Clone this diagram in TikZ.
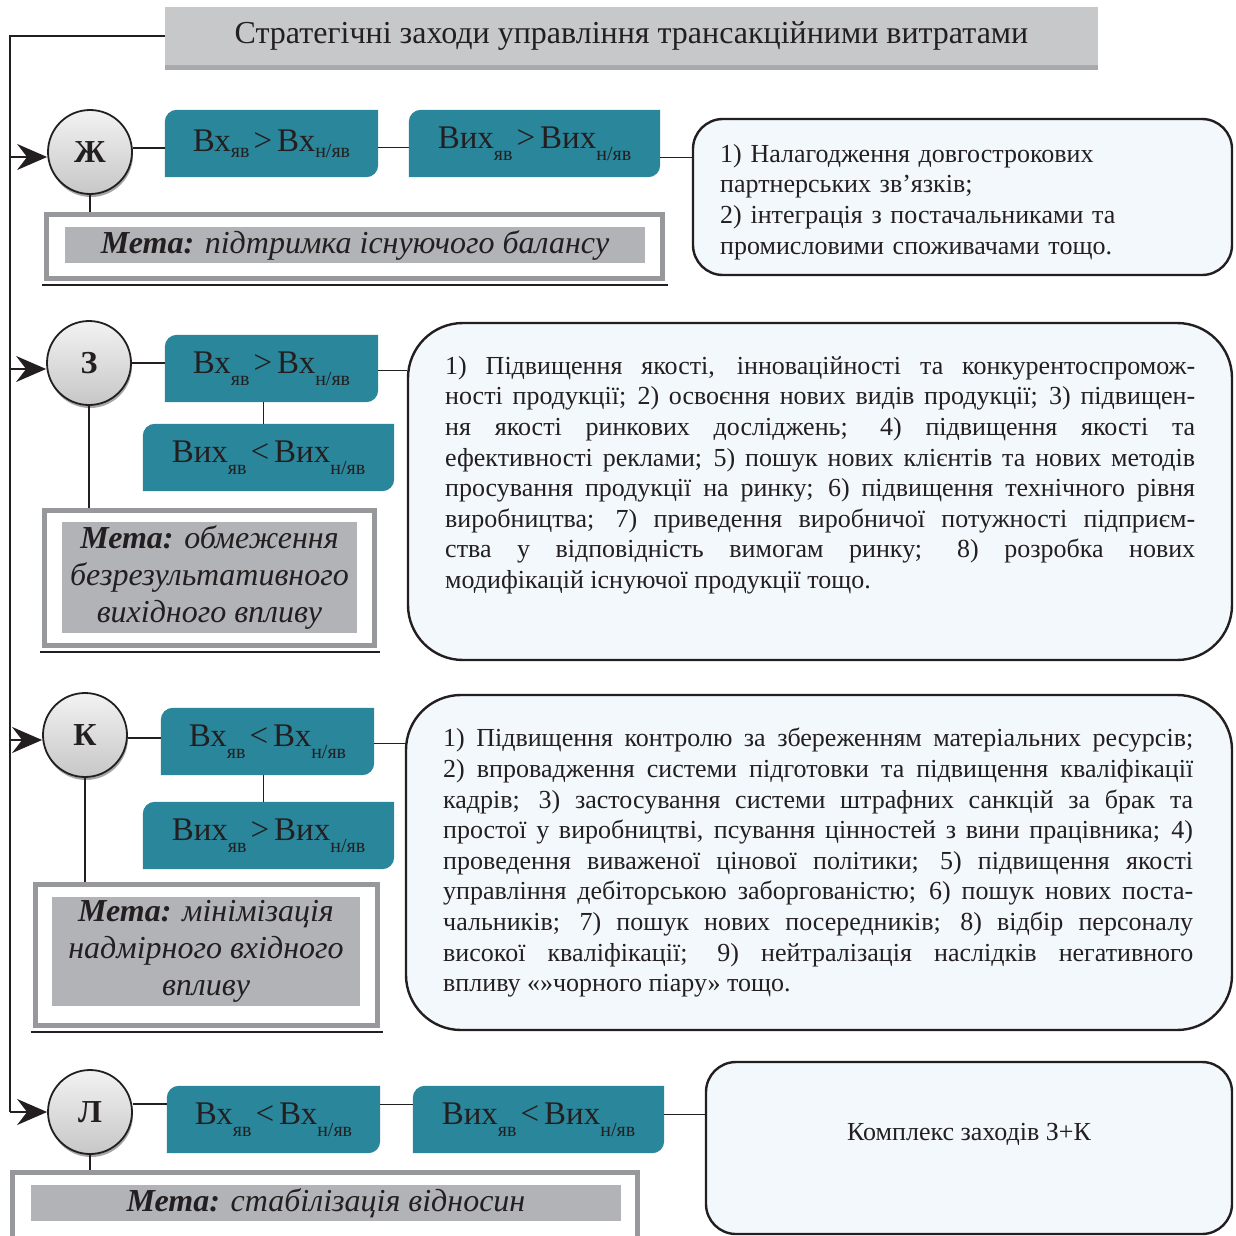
\documentclass[tikz,border=0pt]{standalone}
\usepackage{fontspec}
\setmainfont{Liberation Serif}
\usetikzlibrary{arrows.meta,backgrounds,shadows}
\definecolor{tealc}{RGB}{42,134,154}
\definecolor{txt}{RGB}{35,31,32}
\definecolor{titlegray}{RGB}{199,200,202}
\definecolor{titledark}{RGB}{168,169,172}
\definecolor{framegray}{RGB}{151,152,155}
\definecolor{innergray}{RGB}{178,179,182}
\definecolor{boxfill}{RGB}{243,248,253}
\newcommand\lsub[1]{\raisebox{-12pt}{\fontsize{20}{20}\selectfont #1}}
\newcommand\nsub[1]{\raisebox{-6pt}{\fontsize{20}{20}\selectfont #1}}
\newcommand\rel[1]{\hspace{4pt}#1\hspace{5pt}}
\tikzset{
  conn/.style={draw=txt, line width=1.6pt},
  arr/.style={conn, -{Stealth[length=30pt,width=26pt,inset=10pt]}},
  circ/.style={circle, minimum size=84pt, inner sep=0pt, draw=txt, line width=1.8pt,
    top color=black!5, bottom color=black!22, text=txt,
    font=\bfseries\fontsize{32}{32}\selectfont,
    drop shadow={shadow xshift=1pt, shadow yshift=-3pt, fill=black!50, opacity=0.7}},
  tealbox/.style={minimum height=67pt, inner sep=0pt, text=txt, font=\fontsize{33}{33}\selectfont},
  rbox/.style={draw=txt, line width=2.4pt, fill=boxfill},
  goalframe/.style={draw=framegray, line width=5pt, fill=white, inner sep=0pt},
  goalin/.style={fill=innergray, text=txt, align=center, inner sep=0pt},
  body/.style={text=txt, inner sep=0pt, font=\fontsize{26}{30.6}\selectfont},
}
\begin{document}
\begin{tikzpicture}[x=1pt,y=-1pt]
\useasboundingbox (0,0) rectangle (1235,1236);

% title
\node[fill=titlegray, minimum width=933pt, minimum height=58pt, inner sep=0pt, text=txt,
  font=\fontsize{32}{32}\selectfont] (title) at (631.5,36)
  {Стратегічні заходи управління трансакційними витратами};
\fill[titledark] (title.south west) rectangle ([yshift=-5pt]title.south east);

% circles
\node[circ] (cZh) at (90,152) {Ж};
\node[circ] (cZ) at (89,363) {З};
\node[circ] (cK) at (85,735) {К};
\node[circ] (cL) at (90,1112) {Л};

% teal boxes
\node[tealbox, minimum width=213pt] (t1) at (271.5,143.5) {Вх\nsub{яв}\rel{>}Вх\nsub{н/яв}};
\node[tealbox, minimum width=251pt] (t2) at (534.5,143.5) {Вих\lsub{яв}\rel{>}Вих\lsub{н/яв}};
\node[tealbox, minimum width=213pt] (t3) at (271.5,368.5) {Вх\lsub{яв}\rel{>}Вх\lsub{н/яв}};
\node[tealbox, minimum width=251pt] (t4) at (268.5,457.5) {Вих\lsub{яв}\rel{<}Вих\lsub{н/яв}};
\node[tealbox, minimum width=213pt] (t5) at (267.5,741.5) {Вх\lsub{яв}\rel{<}Вх\lsub{н/яв}};
\node[tealbox, minimum width=251pt] (t6) at (268.5,835.5) {Вих\lsub{яв}\rel{>}Вих\lsub{н/яв}};
\node[tealbox, minimum width=213pt] (t7) at (273.5,1119.5) {Вх\lsub{яв}\rel{<}Вх\lsub{н/яв}};
\node[tealbox, minimum width=251pt] (t8) at (538.5,1119.5) {Вих\lsub{яв}\rel{<}Вих\lsub{н/яв}};

\begin{pgfonlayer}{background}
\foreach \n in {t1,t2,t3,t4,t5,t6,t7,t8}{
  \fill[tealc] (\n.south west) -- ([yshift=-12pt]\n.north west)
    arc[start angle=180,end angle=90,radius=12pt] -- (\n.north east)
    -- ([yshift=12pt]\n.south east) arc[start angle=0,end angle=-90,radius=12pt] -- cycle;
}
\end{pgfonlayer}

% right boxes
\node[rbox, rounded corners=30pt, minimum width=539pt, minimum height=156pt] (r1) at (962.5,197) {};
\node[body, anchor=north west, text width=500pt, align=left] (r1t) at (720,144)
  {1) Налагодження довгострокових\\партнерських зв’язків;\\2) інтеграція з постачальниками та\\промисловими споживачами тощо.};

\node[rbox, rounded corners=55pt, minimum width=824pt, minimum height=337pt] (r2) at (820,491.5) {};
\node[body, anchor=north west, text width=750pt, align=justify] (r2t) at (445,356)
  {\tolerance=10000\hyphenpenalty=10000\exhyphenpenalty=10000
  1) Підвищення якості, інноваційності та конкурентоспромож-\linebreak
  ності продукції; 2) освоєння нових видів продукції; 3) підвищен-\linebreak
  ня якості ринкових досліджень; 4) підвищення якості та\linebreak
  ефективності реклами; 5) пошук нових клієнтів та нових методів\linebreak
  просування продукції на ринку; 6) підвищення технічного рівня\linebreak
  виробництва; 7) приведення виробничої потужності підприєм-\linebreak
  ства у відповідність вимогам ринку; 8) розробка нових\linebreak
  модифікацій існуючої продукції тощо.};

\node[rbox, rounded corners=55pt, minimum width=826pt, minimum height=335pt] (r3) at (819,862.5) {};
\node[body, anchor=north west, text width=750pt, align=justify] (r3t) at (443,728)
  {\tolerance=10000\hyphenpenalty=10000\exhyphenpenalty=10000
  1) Підвищення контролю за збереженням матеріальних ресурсів;\linebreak
  2) впровадження системи підготовки та підвищення кваліфікації\linebreak
  кадрів; 3) застосування системи штрафних санкцій за брак та\linebreak
  простої у виробництві, псування цінностей з вини працівника; 4)\linebreak
  проведення виваженої цінової політики; 5) підвищення якості\linebreak
  управління дебіторською заборгованістю; 6) пошук нових поста-\linebreak
  чальників; 7) пошук нових посередників; 8) відбір персоналу\linebreak
  високої кваліфікації; 9) нейтралізація наслідків негативного\linebreak
  впливу «»чорного піару» тощо.};

\node[rbox, rounded corners=30pt, minimum width=526pt, minimum height=172pt] (r4) at (969,1148) {};
\node[body] (r4t) at (969,1134) {Комплекс заходів З+К};

% goal boxes
\node[goalframe, minimum width=616pt, minimum height=64pt] (g1) at (354.5,246.5) {};
\node[goalin, minimum width=580pt, minimum height=36pt, font=\itshape\fontsize{32}{37}\selectfont] (g1t) at (355,245)
  {\textbf{Мета:} підтримка існуючого балансу};
\node[goalframe, minimum width=330pt, minimum height=135pt] (g2) at (209.5,578) {};
\node[goalin, minimum width=295pt, minimum height=111pt, font=\itshape\fontsize{32}{37}\selectfont] (g2t) at (209.5,577.5)
  {\textbf{Мета:} обмеження\\безрезультативного\\вихідного впливу};
\node[goalframe, minimum width=342pt, minimum height=141pt] (g3) at (206.5,955) {};
\node[goalin, minimum width=308pt, minimum height=109pt, font=\itshape\fontsize{32}{37}\selectfont] (g3t) at (206,951.5)
  {\textbf{Мета:} мінімізація\\надмірного вхідного\\впливу};
\node[goalframe, minimum width=625pt, minimum height=75pt] (g4) at (325,1210) {};
\node[goalin, minimum width=590pt, minimum height=36pt, font=\itshape\fontsize{32}{37}\selectfont] (g4t) at (326,1203)
  {\textbf{Мета:} стабілізація відносин};
\foreach \g in {g1,g2,g3}{
  \draw[txt, line width=2.5pt] ([xshift=-2.5pt,yshift=-4pt]\g.south west) -- ([xshift=2.5pt,yshift=-4pt]\g.south east);
}

% left spine and arrows
\coordinate (topleft) at (10,36);
\coordinate (botleft) at (10,1112);
\draw[conn] (title.west) -- (topleft) -- (botleft);
\draw[arr] (botleft) -- (cL.west);
\draw[arr] ([yshift=-5pt]cZh.west -| topleft) -- ([yshift=-5pt]cZh.west);
\draw[arr] ([yshift=-6pt]cZ.west -| topleft) -- ([yshift=-6pt]cZ.west);
\draw[arr] ([yshift=-5pt]cK.west -| topleft) -- ([yshift=-5pt]cK.west);

% row connectors
\draw[conn] ([yshift=4pt]cZh.east) -- ([yshift=4pt]cZh.east -| t1.west);
\draw[conn] ([yshift=-4pt]t1.east) -- ([yshift=-4pt]t2.west);
\draw[conn] ([yshift=-14pt]t2.east) -- ([yshift=-14pt]t2.east -| r1.west);
\draw[conn] (cZh.south) -- (cZh.south |- g1.north);

\draw[conn] (cZ.east) -- (cZ.east -| t3.west);
\draw[conn] ([yshift=-2pt]t3.east) -- ([yshift=-2pt]t3.east -| r2.west);
\draw[conn] ([xshift=-5pt]t4.north) -- ([xshift=-5pt]t4.north |- t3.south);
\draw[conn] (cZ.south) -- (cZ.south |- g2.north);

\draw[conn] ([yshift=-3pt]cK.east) -- ([yshift=-3pt]cK.east -| t5.west);
\draw[conn] ([yshift=-2pt]t5.east) -- ([yshift=-2pt]t5.east -| r3.west);
\draw[conn] ([xshift=-5pt]t6.north) -- ([xshift=-5pt]t6.north |- t5.south);
\draw[conn] (cK.south) -- (cK.south |- g3.north);

\draw[conn] ([yshift=8pt]cL.east) -- ([yshift=8pt]cL.east -| t7.west);
\draw[conn] ([yshift=15pt]t7.east) -- ([yshift=15pt]t8.west);
\draw[conn] ([yshift=5pt]t8.east) -- ([yshift=5pt]t8.east -| r4.west);
\draw[conn] (cL.south) -- (cL.south |- g4.north);
\end{tikzpicture}
\end{document}
